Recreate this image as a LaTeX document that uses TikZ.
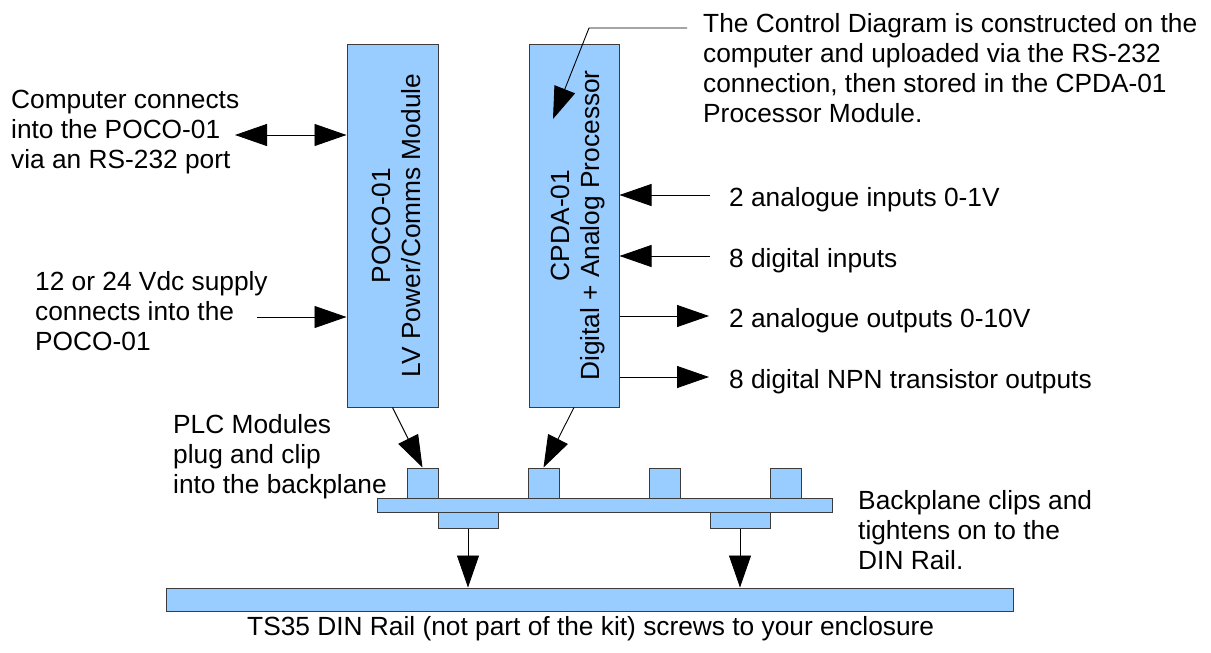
\documentclass[tikz,border=0pt]{standalone}
\usepackage{fontspec}
\setmainfont{Liberation Sans}
\usetikzlibrary{arrows.meta}
\definecolor{boxfill}{HTML}{99CCFF}
\definecolor{boxline}{HTML}{3C3C3C}
\begin{document}
\begin{tikzpicture}[x=1pt,y=-1pt,
  txt/.style={font=\fontsize{26.3}{30}\selectfont, inner sep=0pt, align=left},
  part/.style={draw=boxline, fill=boxfill, line width=1pt, inner sep=0pt, minimum width=#1},
  arr/.style={line width=0.9pt, -{Triangle[length=32pt,width=22pt]}},
  darr/.style={line width=0.9pt, {Triangle[length=32pt,width=22pt]}-{Triangle[length=32pt,width=22pt]}}]
\useasboundingbox (0,0) rectangle (1211,653);
% modules
\node[part=91pt, minimum height=363pt] (poco) at (392.5,225.5) {};
\node[part=90pt, minimum height=363pt] (cpda) at (574,225.5) {};
\node[txt, rotate=90, align=center] (pocotxt) at ([xshift=4pt]poco.center) {POCO-01\\LV Power/Comms Module};
\node[txt, rotate=90, align=center] (cpdatxt) at ([xshift=4pt]cpda.center) {CPDA-01\\Digital + Analog Processor};
% backplane
\node[part=455pt, minimum height=14pt] (bp) at (604.5,505) {};
\node[part=31pt, minimum height=30pt] (sq1) at (422.5,483) {};
\node[part=31pt, minimum height=30pt] (sq2) at (543.5,483) {};
\node[part=31pt, minimum height=30pt] (sq3) at (664.5,483) {};
\node[part=31pt, minimum height=30pt] (sq4) at (786,483) {};
\node[part=60pt, minimum height=16pt] (tab1) at (468,520) {};
\node[part=60pt, minimum height=16pt] (tab2) at (740,520) {};
% rail
\node[part=847pt, minimum height=23pt] (rail) at (589.5,599.5) {};
% texts
\node[txt, anchor=north west] (ctrl) at (703,13) {The Control Diagram is constructed on the\\computer and uploaded via the RS-232\\connection, then stored in the CPDA-01\\Processor Module.};
\node[txt, anchor=north west] (comp) at (11,90) {Computer connects\\into the POCO-01\\via an RS-232 port};
\node[txt, anchor=north west] (sup) at (35,271) {12 or 24 Vdc supply\\connects into the\\POCO-01};
\node[txt, anchor=north west] (plc) at (173,414) {PLC Modules\\plug and clip\\into the backplane};
\node[txt, anchor=north west] (bptxt) at (858,490) {Backplane clips and\\tightens on to the\\DIN Rail.};
\node[txt, anchor=base west] (ain) at (729,206) {2 analogue inputs 0-1V};
\node[txt, anchor=base west] (din) at (729,267) {8 digital inputs};
\node[txt, anchor=base west] (aout) at (729,327) {2 analogue outputs 0-10V};
\node[txt, anchor=base west] (dout) at (729,388) {8 digital NPN transistor outputs};
\node[txt, anchor=base west] (railtxt) at (247,635) {TS35 DIN Rail (not part of the kit) screws to your enclosure};
% connector endpoints
\coordinate (c1) at (235,135);
\coordinate (c2) at (257,317);
\coordinate (i1) at (710,195);
\coordinate (i2) at (710,256);
\coordinate (o1) at (709,316);
\coordinate (o2) at (709,377);
\coordinate (t0) at (687,28);
\coordinate (t1) at (589,28);
\coordinate (t2) at (553,119);
% connectors
\draw[darr] (c1) -- (c1 -| poco.west);
\draw[arr] (c2) -- (c2 -| poco.west);
\draw[arr] (i1) -- (i1 -| cpda.east);
\draw[arr] (i2) -- (i2 -| cpda.east);
\draw[arr] (o1 -| cpda.east) -- (o1);
\draw[arr] (o2 -| cpda.east) -- (o2);
\draw[arr] (t0) -- (t1) -- (t2);
\draw[arr] (poco.south) -- (sq1.north);
\draw[arr] (cpda.south) -- (sq2.north);
\draw[arr] (tab1.south) -- (tab1.south |- rail.north);
\draw[arr] (tab2.south) -- (tab2.south |- rail.north);
\end{tikzpicture}
\end{document}
